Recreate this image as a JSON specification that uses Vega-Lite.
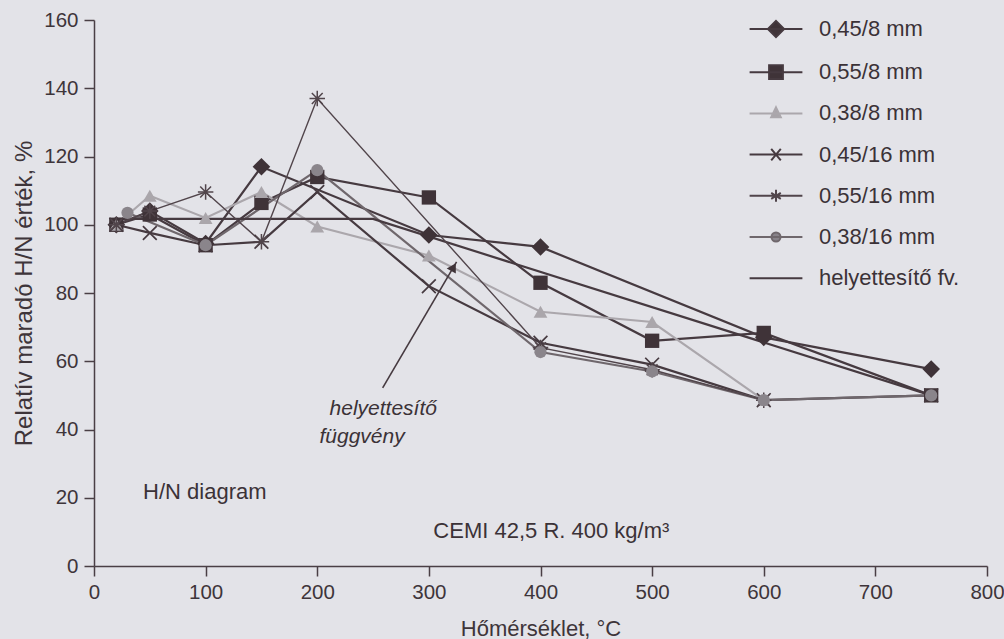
{
  "$schema": "https://vega.github.io/schema/vega-lite/v6.json",
  "width": 893,
  "height": 546,
  "autosize": {"type": "none"},
  "padding": {"left": 94, "top": 20, "right": 17, "bottom": 73},
  "background": "#e3e3e8",
  "config": {
    "view": {"stroke": null},
    "font": "Liberation Sans",
    "axis": {
      "grid": false,
      "domainColor": "#4a3f45",
      "domainWidth": 1.5,
      "tickColor": "#4a3f45",
      "tickWidth": 1.5,
      "tickSize": 10,
      "labelFont": "Liberation Sans",
      "labelFontSize": 20.5,
      "labelColor": "#3e353a",
      "titleFont": "Liberation Sans",
      "titleFontWeight": "normal",
      "titleColor": "#3e353a"
    }
  },
  "datasets": {
    "rows": [
      {"series": "0,45/8 mm", "t": 20, "v": 100},
      {"series": "0,45/8 mm", "t": 50, "v": 104},
      {"series": "0,45/8 mm", "t": 100, "v": 94.5},
      {"series": "0,45/8 mm", "t": 150, "v": 117},
      {"series": "0,45/8 mm", "t": 300, "v": 97},
      {"series": "0,45/8 mm", "t": 400, "v": 93.5},
      {"series": "0,45/8 mm", "t": 600, "v": 67},
      {"series": "0,45/8 mm", "t": 750, "v": 57.7},

      {"series": "0,55/8 mm", "t": 20, "v": 100},
      {"series": "0,55/8 mm", "t": 50, "v": 103},
      {"series": "0,55/8 mm", "t": 100, "v": 94},
      {"series": "0,55/8 mm", "t": 150, "v": 106.4},
      {"series": "0,55/8 mm", "t": 200, "v": 114},
      {"series": "0,55/8 mm", "t": 300, "v": 108},
      {"series": "0,55/8 mm", "t": 400, "v": 83},
      {"series": "0,55/8 mm", "t": 500, "v": 66},
      {"series": "0,55/8 mm", "t": 600, "v": 68.3},
      {"series": "0,55/8 mm", "t": 750, "v": 50},

      {"series": "0,38/8 mm", "t": 20, "v": 100},
      {"series": "0,38/8 mm", "t": 50, "v": 108.5},
      {"series": "0,38/8 mm", "t": 100, "v": 102},
      {"series": "0,38/8 mm", "t": 150, "v": 109.6},
      {"series": "0,38/8 mm", "t": 200, "v": 99.5},
      {"series": "0,38/8 mm", "t": 300, "v": 91},
      {"series": "0,38/8 mm", "t": 400, "v": 74.5},
      {"series": "0,38/8 mm", "t": 500, "v": 71.5},
      {"series": "0,38/8 mm", "t": 600, "v": 48.6},

      {"series": "0,45/16 mm", "t": 20, "v": 100},
      {"series": "0,45/16 mm", "t": 50, "v": 97.6},
      {"series": "0,45/16 mm", "t": 100, "v": 94},
      {"series": "0,45/16 mm", "t": 150, "v": 95},
      {"series": "0,45/16 mm", "t": 200, "v": 109.6},
      {"series": "0,45/16 mm", "t": 300, "v": 82},
      {"series": "0,45/16 mm", "t": 400, "v": 65.4},
      {"series": "0,45/16 mm", "t": 500, "v": 59},
      {"series": "0,45/16 mm", "t": 600, "v": 48.6},
      {"series": "0,45/16 mm", "t": 750, "v": 50},

      {"series": "0,55/16 mm", "t": 20, "v": 100},
      {"series": "0,55/16 mm", "t": 50, "v": 104},
      {"series": "0,55/16 mm", "t": 100, "v": 109.6},
      {"series": "0,55/16 mm", "t": 150, "v": 95},
      {"series": "0,55/16 mm", "t": 200, "v": 137},
      {"series": "0,55/16 mm", "t": 400, "v": 64},
      {"series": "0,55/16 mm", "t": 500, "v": 57.5},
      {"series": "0,55/16 mm", "t": 600, "v": 48.6},

      {"series": "0,38/16 mm", "t": 30, "v": 103.5},
      {"series": "0,38/16 mm", "t": 100, "v": 94},
      {"series": "0,38/16 mm", "t": 200, "v": 116},
      {"series": "0,38/16 mm", "t": 400, "v": 62.7},
      {"series": "0,38/16 mm", "t": 500, "v": 57},
      {"series": "0,38/16 mm", "t": 600, "v": 48.6},
      {"series": "0,38/16 mm", "t": 750, "v": 50},

      {"series": "helyettesítő fv.", "t": 20, "v": 101.7},
      {"series": "helyettesítő fv.", "t": 250, "v": 101.7},
      {"series": "helyettesítő fv.", "t": 750, "v": 50}
    ],
    "notes": [
      {"t": 44, "v": 21.7, "label": "H/N diagram"},
      {"t": 304, "v": 10.3, "label": "CEMI 42,5 R. 400 kg/m³"}
    ],
    "italicNotes": [
      {"t": 211, "v": 46, "label": "helyettesítő"},
      {"t": 202, "v": 37.8, "label": "függvény"}
    ],
    "arrow": [
      {"t": 258.6, "v": 52.2, "t2": 324.8, "v2": 89.1}
    ],
    "arrowHead": [
      {"t": 322.1, "v": 87.6}
    ]
  },
  "data": {"name": "rows"},
  "layer": [
    {
      "data": {"values": []},
      "mark": {"type": "point", "filled": true, "opacity": 1},
      "encoding": {
        "color": {"field": "series", "type": "nominal",
                  "scale": {"domain": ["0,45/8 mm", "0,55/8 mm", "0,38/8 mm", "0,45/16 mm", "0,55/16 mm", "0,38/16 mm", "helyettesítő fv."],
                            "range": ["#3f3338", "#3f3338", "#a9a5aa", "#463a40", "#51454b", "#88838a", "#463a40"]},
                  "legend": {"orient": "none", "legendX": 671, "legendY": -2, "title": null, "symbolSize": 144, "symbolStrokeWidth": 2,
                             "labelFont": "Liberation Sans", "labelFontSize": 22, "labelColor": "#3b3237", "labelOffset": 32, "rowPadding": 19.2, "padding": 0}},
        "stroke": {"field": "series", "type": "nominal",
                   "scale": {"domain": ["0,45/8 mm", "0,55/8 mm", "0,38/8 mm", "0,45/16 mm", "0,55/16 mm", "0,38/16 mm", "helyettesítő fv."],
                             "range": ["#463a40", "#463a40", "#aba7ac", "#463a40", "#51454b", "#6f676c", "#463a40"]},
                   "legend": {"orient": "none", "legendX": 671, "legendY": -2, "title": null, "symbolSize": 144, "symbolStrokeWidth": 2,
                              "labelFont": "Liberation Sans", "labelFontSize": 22, "labelColor": "#3b3237", "labelOffset": 32, "rowPadding": 19.2, "padding": 0}},
        "shape": {"field": "series", "type": "nominal",
                  "scale": {"domain": ["0,45/8 mm", "0,55/8 mm", "0,38/8 mm", "0,45/16 mm", "0,55/16 mm", "0,38/16 mm", "helyettesítő fv."],
                            "range": [
                              "M-4.4,0H4.4M0,-1.35L1.35,0L0,1.35L-1.35,0Z",
                              "M-4.4,0H4.4M-1.15,-1.15H1.15V1.15H-1.15Z",
                              "M-4.4,0H4.4M0,-1L0.8,0.65H-0.8Z",
                              "M-4.4,0H4.4M-0.8,-0.95L0.8,0.95M0.8,-0.95L-0.8,0.95",
                              "M-4.4,0H4.4M0,-1V1M-0.8,-0.5L0.8,0.5M0.8,-0.5L-0.8,0.5",
                              "M-4.4,0H4.4M-0.75,0A0.75,0.75,0,1,0,0.75,0A0.75,0.75,0,1,0,-0.75,0Z",
                              "M-4.4,0H4.4"
                            ]},
                  "legend": {"orient": "none", "legendX": 671, "legendY": -2, "title": null, "symbolSize": 144, "symbolStrokeWidth": 2,
                             "labelFont": "Liberation Sans", "labelFontSize": 22, "labelColor": "#3b3237", "labelOffset": 32, "rowPadding": 19.2, "padding": 0}}
      }
    },
    {
      "transform": [{"filter": "datum.series !== '0,55/16 mm'"}],
      "mark": {"type": "line", "strokeWidth": 2.2},
      "encoding": {
        "x": {"field": "t", "type": "quantitative", "scale": {"domain": [0, 800], "nice": false},
              "axis": {"values": [0, 100, 200, 300, 400, 500, 600, 700, 800], "labelFlush": false,
                       "title": "Hőmérséklet, °C", "titleFontSize": 22, "titleY": 62, "titleBaseline": "middle", "labelPadding": 6}},
        "y": {"field": "v", "type": "quantitative", "scale": {"domain": [0, 160], "nice": false},
              "axis": {"values": [0, 20, 40, 60, 80, 100, 120, 140, 160], "title": "Relatív maradó H/N érték, %", "titleFontSize": 24, "titlePadding": 7, "labelPadding": 6}},
        "stroke": {"field": "series", "type": "nominal"}
      }
    },
    {
      "transform": [{"filter": {"field": "series", "equal": "0,55/16 mm"}}],
      "mark": {"type": "line", "strokeWidth": 1.4},
      "encoding": {
        "x": {"field": "t", "type": "quantitative"},
        "y": {"field": "v", "type": "quantitative"},
        "stroke": {"field": "series", "type": "nominal"}
      }
    },
    {
      "transform": [{"filter": {"field": "series", "equal": "0,45/8 mm"}}],
      "mark": {"type": "point", "shape": "diamond", "size": 310, "filled": true, "fill": "#3f3338", "opacity": 1},
      "encoding": {"x": {"field": "t", "type": "quantitative"}, "y": {"field": "v", "type": "quantitative"}}
    },
    {
      "transform": [{"filter": {"field": "series", "equal": "0,55/8 mm"}}],
      "mark": {"type": "point", "shape": "square", "size": 205, "filled": true, "fill": "#3f3338", "opacity": 1},
      "encoding": {"x": {"field": "t", "type": "quantitative"}, "y": {"field": "v", "type": "quantitative"}}
    },
    {
      "transform": [{"filter": {"field": "series", "equal": "0,38/8 mm"}}],
      "mark": {"type": "point", "shape": "triangle-up", "size": 190, "filled": true, "fill": "#aaa6ab", "opacity": 1},
      "encoding": {"x": {"field": "t", "type": "quantitative"}, "y": {"field": "v", "type": "quantitative"}}
    },
    {
      "transform": [{"filter": {"field": "series", "equal": "0,45/16 mm"}}],
      "mark": {"type": "point", "shape": "M-1,-1L1,1M1,-1L-1,1", "size": 190, "filled": false, "stroke": "#463a40", "strokeWidth": 1.7, "opacity": 1},
      "encoding": {"x": {"field": "t", "type": "quantitative"}, "y": {"field": "v", "type": "quantitative"}}
    },
    {
      "transform": [{"filter": {"field": "series", "equal": "0,55/16 mm"}}],
      "mark": {"type": "point", "shape": "M0,-1V1M-1,0H1M-0.7,-0.7L0.7,0.7M0.7,-0.7L-0.7,0.7", "size": 240, "filled": false, "stroke": "#51454b", "strokeWidth": 1.5, "opacity": 1},
      "encoding": {"x": {"field": "t", "type": "quantitative"}, "y": {"field": "v", "type": "quantitative"}}
    },
    {
      "transform": [{"filter": {"field": "series", "equal": "0,38/16 mm"}}],
      "mark": {"type": "point", "shape": "circle", "size": 150, "filled": true, "fill": "#8a858b", "opacity": 1},
      "encoding": {"x": {"field": "t", "type": "quantitative"}, "y": {"field": "v", "type": "quantitative"}}
    },
    {
      "data": {"name": "arrow"},
      "mark": {"type": "rule", "stroke": "#463a40", "strokeWidth": 1.6},
      "encoding": {
        "x": {"field": "t", "type": "quantitative"},
        "y": {"field": "v", "type": "quantitative"},
        "x2": {"field": "t2"},
        "y2": {"field": "v2"}
      }
    },
    {
      "data": {"name": "arrowHead"},
      "mark": {"type": "point", "shape": "triangle-up", "size": 110, "angle": 30, "filled": true, "fill": "#3f3338", "opacity": 1},
      "encoding": {"x": {"field": "t", "type": "quantitative"}, "y": {"field": "v", "type": "quantitative"}}
    },
    {
      "data": {"name": "notes"},
      "mark": {"type": "text", "align": "left", "baseline": "middle", "font": "Liberation Sans", "fontSize": 22, "fill": "#3b3237"},
      "encoding": {"x": {"field": "t", "type": "quantitative"}, "y": {"field": "v", "type": "quantitative"}, "text": {"field": "label"}}
    },
    {
      "data": {"name": "italicNotes"},
      "mark": {"type": "text", "align": "left", "baseline": "middle", "font": "Liberation Sans", "fontSize": 21, "fontStyle": "italic", "fill": "#3b3237"},
      "encoding": {"x": {"field": "t", "type": "quantitative"}, "y": {"field": "v", "type": "quantitative"}, "text": {"field": "label"}}
    }
  ]
}
